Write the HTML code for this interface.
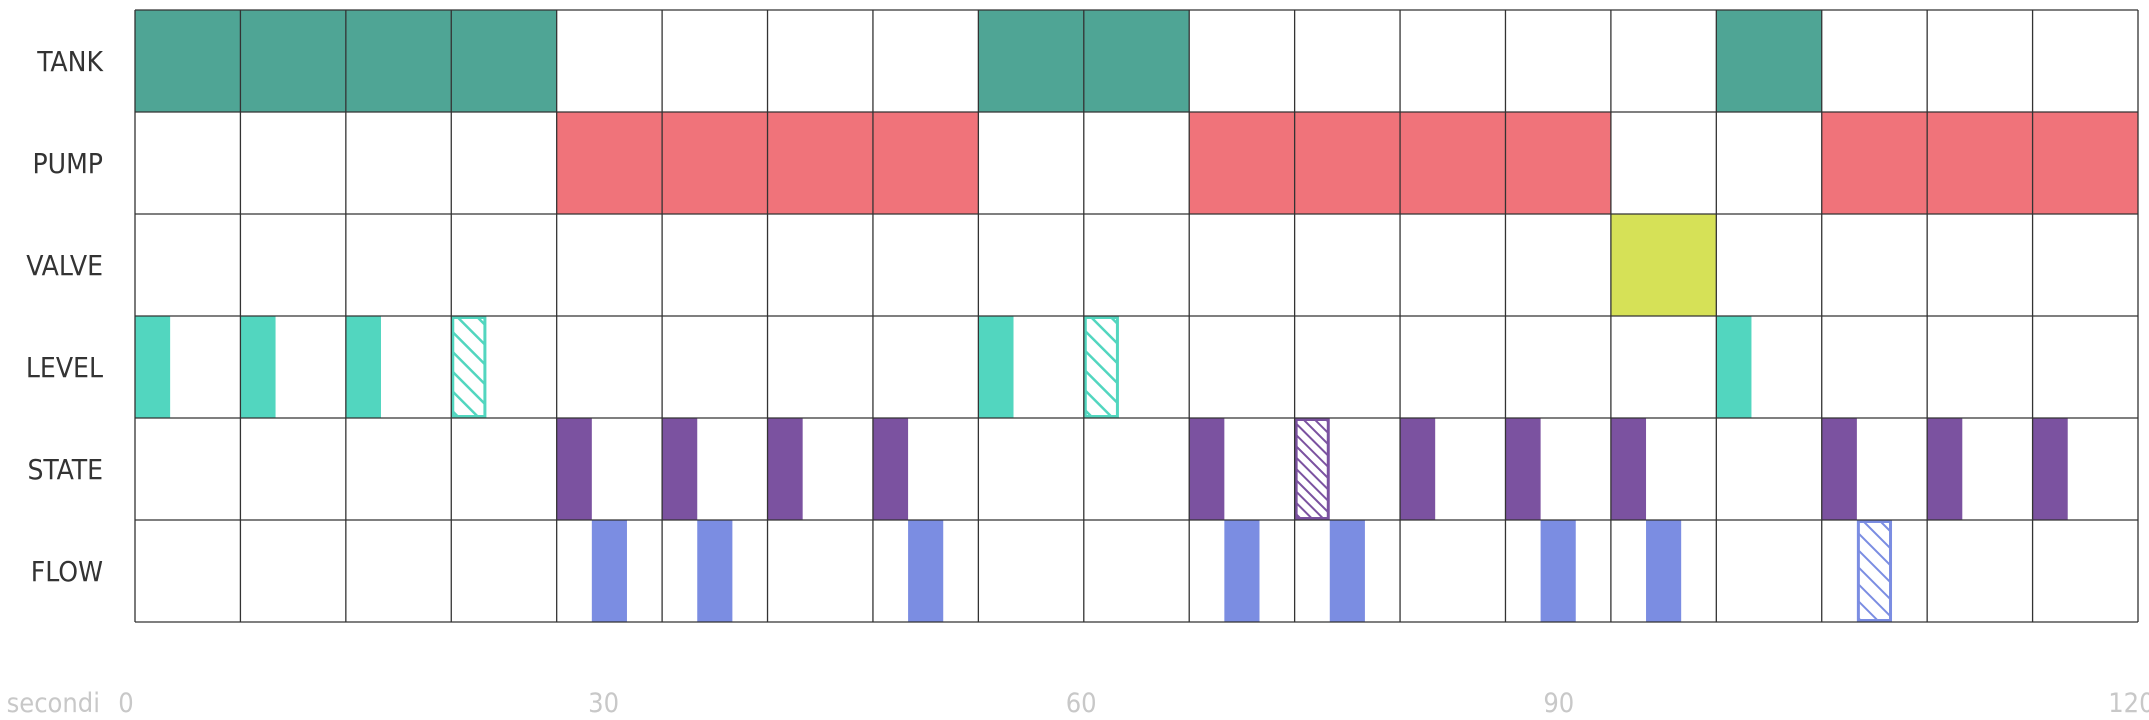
<!DOCTYPE html>
<html><head><meta charset="utf-8">
<style>
html,body{margin:0;padding:0;background:#fff;}
svg{display:block;font-family:"DejaVu Sans Condensed","Liberation Sans",sans-serif;}
</style></head>
<body>
<svg id="chart" width="2149" height="720" viewBox="0 0 2149 720" xmlns="http://www.w3.org/2000/svg">
<defs>
<pattern id="hatch-level" patternUnits="userSpaceOnUse" width="14" height="14" patternTransform="rotate(-45)">
<rect width="14" height="14" fill="#fff"/><line x1="0" y1="0" x2="0" y2="14" stroke="#52d6bf" stroke-width="5"/></pattern>
<pattern id="hatch-state" patternUnits="userSpaceOnUse" width="8" height="8" patternTransform="rotate(-45)">
<rect width="8" height="8" fill="#fff"/><line x1="0" y1="0" x2="0" y2="8" stroke="#7b52a0" stroke-width="4"/></pattern>
<pattern id="hatch-flow" patternUnits="userSpaceOnUse" width="12" height="12" patternTransform="rotate(-45)">
<rect width="12" height="12" fill="#fff"/><line x1="0" y1="0" x2="0" y2="12" stroke="#7b8de2" stroke-width="4"/></pattern>
</defs>
<g id="marks"></g>
<g id="grid"></g>
<g id="labels"></g>
</svg>
<script>
const rowNames = ["TANK","PUMP","VALVE","LEVEL","STATE","FLOW"];
const tankCols = [0,1,2,3,8,9,15];
const pumpCols = [4,5,6,7,10,11,12,13,16,17,18];
const valveCols = [14];
const levelSolid = [0,1,2,8,15];
const levelHatched = [3,9];
const stateSolid = [4,5,6,7,10,12,13,14,16,17,18];
const stateHatched = [11];
const flowSolid = [4,5,7,10,11,13,14];
const flowHatched = [16];
const tickValues = [0,30,60,90,120];
const tickLabels = ["0","30","60","90","120"];
const axisTitle = "secondi";

const NS="http://www.w3.org/2000/svg";
const X0=135, X1=2138, Y0=10, Y1=622, NC=19, NR=rowNames.length;
const cw=(X1-X0)/NC, rh=(Y1-Y0)/NR;
const colX=c=>X0+c*cw;
const rowY=r=>Y0+r*rh;
const timeX=t=>126+15.92*t+(t>=120?95:0);
function el(tag,attrs,parent){const e=document.createElementNS(NS,tag);for(const k in attrs)e.setAttribute(k,attrs[k]);parent.appendChild(e);return e;}
const marks=document.getElementById('marks'), grid=document.getElementById('grid'), labels=document.getElementById('labels');

function fullCells(cols,row,color,name){cols.forEach(c=>{
 const r=el('rect',{x:colX(c),y:rowY(row),width:cw,height:rh,fill:color},marks);
 
 
});}
function slotBars(cols,row,slot,fill,stroke,name){cols.forEach(c=>{
 const w=cw/3, x=colX(c)+slot*w;
 const a={x:x,y:rowY(row),width:w,height:rh,fill:fill};
 if(stroke){a.x=x+1.5;a.y=rowY(row)+1.5;a.width=w-3;a.height=rh-3;a.stroke=stroke;a['stroke-width']=3;}
 const r=el('rect',a,marks);
 
 
});}
fullCells(tankCols,0,'#4fa595','tank');
fullCells(pumpCols,1,'#f0737a','pump');
fullCells(valveCols,2,'#d6e157','valve');
slotBars(levelSolid,3,0,'#52d6bf',null,'level');
slotBars(levelHatched,3,0,'url(#hatch-level)','#52d6bf','level-hatched');
slotBars(stateSolid,4,0,'#7b52a0',null,'state');
slotBars(stateHatched,4,0,'url(#hatch-state)','#7b52a0','state-hatched');
slotBars(flowSolid,5,1,'#7b8de2',null,'flow');
slotBars(flowHatched,5,1,'url(#hatch-flow)','#7b8de2','flow-hatched');

for(let c=0;c<=NC;c++){const l=el('line',{x1:colX(c),x2:colX(c),y1:Y0,y2:Y1,stroke:'#333','stroke-width':1.3},grid);
 
 }
for(let r=0;r<=NR;r++){const l=el('line',{x1:X0,x2:X1,y1:rowY(r),y2:rowY(r),stroke:'#333','stroke-width':1.3},grid);
 
 }

rowNames.forEach((n,i)=>{const t=el('text',{x:103,y:rowY(i)+rh/2+10,'text-anchor':'end','font-size':28,fill:'#333'},labels);
 t.textContent=n;
 
 });
tickValues.forEach((v,i)=>{const t=el('text',{x:timeX(v),y:712,'text-anchor':'middle','font-size':27,fill:'#c8c8c8'},labels);
 t.textContent=tickLabels[i];
 
 });
const at=el('text',{x:100,y:712,'text-anchor':'end','font-size':27,fill:'#c8c8c8'},labels);
at.textContent=axisTitle;


</script>
</body></html>
